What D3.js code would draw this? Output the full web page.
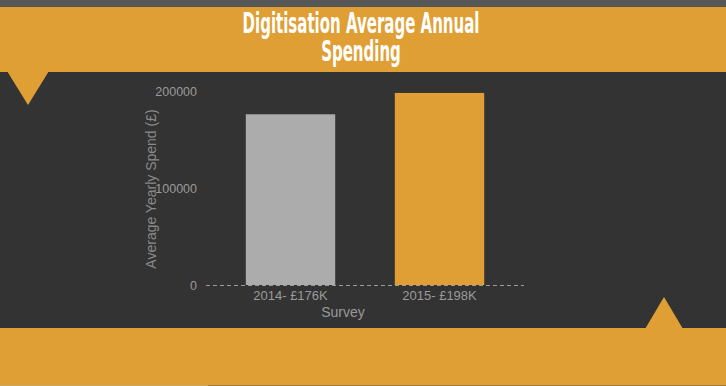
<!DOCTYPE html>
<html>
<head>
<meta charset="utf-8">
<script src="https://cdn.jsdelivr.net/npm/d3@7"></script>
<style>
  body { margin: 0; background: #333333; }
  svg { display: block; }
</style>
</head>
<body>
<svg id="chart" width="726" height="386"></svg>
<script>
const categories = ['2014- £176K', '2015- £198K'];
const spend = [176000, 198000];
const y_ticks = [0, 100000, 200000];
const title_lines = ['Digitisation Average Annual', 'Spending'];

const orange = '#e09f35';

function draw() {
    const svg = d3.select('#chart');

    // background bands
    svg.append('rect').attr('width', 726).attr('height', 386).attr('fill', '#333333');
    svg.append('rect').attr('width', 726).attr('height', 7).attr('fill', '#575757');
    svg.append('rect').attr('y', 7).attr('width', 726).attr('height', 65).attr('fill', orange);
    svg.append('rect').attr('y', 328).attr('width', 726).attr('height', 57).attr('fill', orange);
    svg.append('rect').attr('y', 385).attr('width', 208).attr('height', 1).attr('fill', '#c9a66a');
    svg.append('rect').attr('x', 208).attr('y', 385).attr('width', 518).attr('height', 1).attr('fill', '#9a7a45');

    svg.append('path')
        .attr('d', 'M7,71 L49,71 L28,105 Z')
        .attr('fill', orange);
    svg.append('path')
        .attr('d', 'M645,329 L683,329 L664,297 Z')
        .attr('fill', orange);

    // title, squeezed to look like a condensed display face
    svg.append('g')
        .selectAll('text')
        .data(title_lines)
        .join('text')
        .attr('transform', (d, i) => `translate(361,${33 + i * 28}) scale(0.6,1.12)`)
        .attr('text-anchor', 'middle')
        .attr('fill', '#ffffff')
        .style('font-family', '"DejaVu Sans", sans-serif')
        .style('font-weight', 'bold')
        .style('font-size', '25px')
        .text(d => d);

    // chart
    const x = d3.scaleBand()
        .domain(categories)
        .range([206, 524])
        .paddingInner(0.4)
        .paddingOuter(0.267);

    const y = d3.scaleLinear()
        .domain([0, 200000])
        .range([285, 91]);

    const font = 'Arial, "Liberation Sans", sans-serif';
    const axis_color = '#9a9a9a';

    svg.append('g')
        .selectAll('rect')
        .data(spend)
        .join('rect')
        .attr('x', (d, i) => x(categories[i]))
        .attr('y', d => y(d))
        .attr('width', x.bandwidth())
        .attr('height', d => y(0) - y(d))
        .attr('fill', (d, i) => i === 0 ? '#acacac' : orange);

    // dashed baseline
    svg.append('line')
        .attr('x1', 206).attr('x2', 524)
        .attr('y1', y(0) + 0.5).attr('y2', y(0) + 0.5)
        .attr('stroke', '#9a9a9a')
        .attr('stroke-dasharray', '4,3');

    const y_axis = svg.append('g')
        .attr('transform', 'translate(200,0)')
        .call(d3.axisLeft(y).tickValues(y_ticks).tickSize(0).tickPadding(3).tickFormat(d3.format('d')));
    y_axis.select('.domain').remove();
    y_axis.selectAll('text')
        .attr('fill', axis_color)
        .style('font-family', font)
        .style('font-size', '12.5px');

    const x_axis = svg.append('g')
        .attr('transform', `translate(0,${y(0)})`)
        .call(d3.axisBottom(x).tickSize(0).tickPadding(6));
    x_axis.select('.domain').remove();
    x_axis.selectAll('text')
        .attr('fill', axis_color)
        .style('font-family', font)
        .style('font-size', '13px');

    svg.append('text')
        .attr('x', 343)
        .attr('y', 317)
        .attr('text-anchor', 'middle')
        .attr('fill', axis_color)
        .style('font-family', font)
        .style('font-size', '14px')
        .text('Survey');

    svg.append('text')
        .attr('transform', 'translate(156,189) rotate(-90)')
        .attr('text-anchor', 'middle')
        .attr('fill', '#8a8a8a')
        .style('font-family', font)
        .style('font-size', '14px')
        .text('Average Yearly Spend (£)');
}

draw();
</script>
</body>
</html>
